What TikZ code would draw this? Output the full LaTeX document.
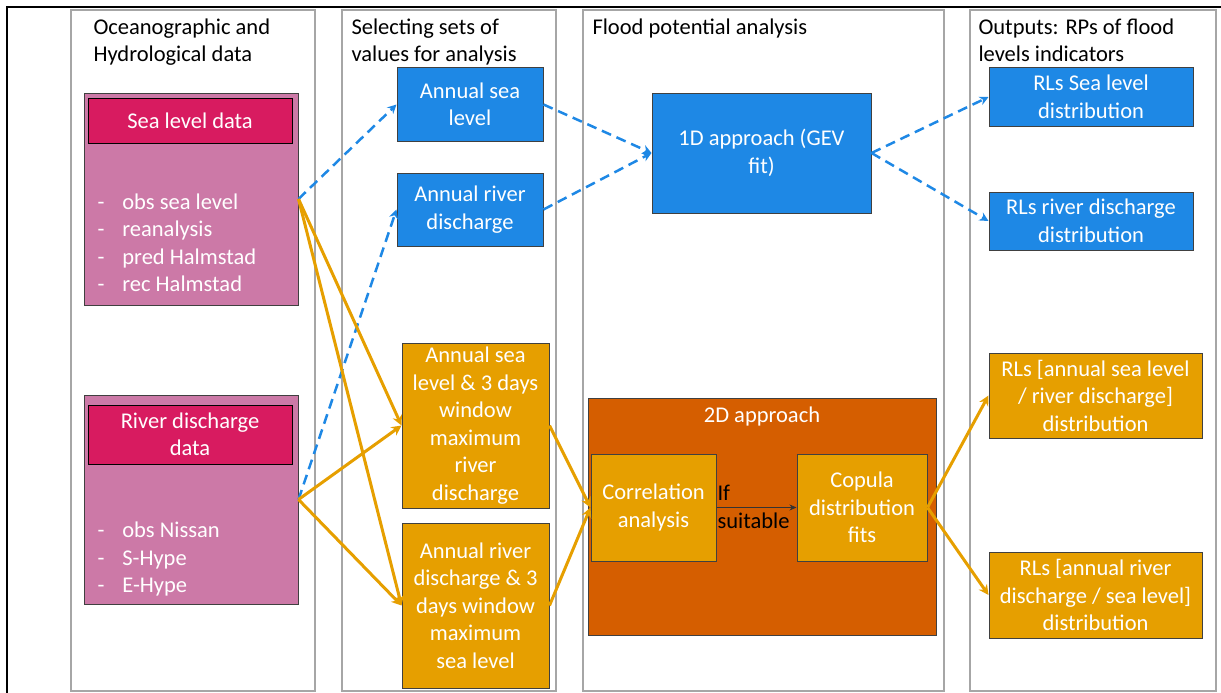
\documentclass[tikz,border=0pt]{standalone}
\usepackage{fontspec}
\setmainfont{Carlito}
\usepackage{tikz}
\usetikzlibrary{arrows.meta}

\definecolor{seablue}{HTML}{1E88E5}
\definecolor{amber}{HTML}{E69F00}
\definecolor{vermil}{HTML}{D55E00}
\definecolor{mauve}{HTML}{CC79A7}
\definecolor{crimson}{HTML}{D81B60}
\definecolor{framegray}{HTML}{A6A6A6}

\begin{document}
\begin{tikzpicture}[x=1pt, y=-1pt, line width=1pt,
    font=\fontsize{22.5}{27.5}\selectfont,
    col/.style={draw=framegray, line width=1.5pt},
    title/.style={anchor=north west, align=left, inner sep=0pt},
    box/.style={draw=black!75, text=white, align=center, inner sep=2pt},
    bluebox/.style={box, fill=seablue},
    amberbox/.style={box, fill=amber},
    pinkbox/.style={box, fill=mauve},
    headbox/.style={box, draw=black, fill=crimson},
    listtext/.style={anchor=west, align=left, text=white, inner sep=0pt},
    dashlink/.style={seablue, line width=2.5pt, dash pattern=on 10pt off 6pt, -{Stealth[length=9pt,width=9pt]}},
    orangelink/.style={amber, line width=3pt, -{Stealth[length=10pt,width=10pt]}}]

    \useasboundingbox (0,0) rectangle (1221,693);

    \draw[line width=2pt] (7,693) -- (7,7) -- (1221,7);

    \draw[col] (71,10) rectangle (315,691);
    \draw[col] (342,10) rectangle (556,691);
    \draw[col] (583,10) rectangle (944,691);
    \draw[col] (970,10) rectangle (1216,691);

    \node[title] (datatitle) at (93,18) {Oceanographic and\\Hydrological data};
    \node[title] (selecttitle) at (351,18) {Selecting sets of\\values for analysis};
    \node[title] (floodtitle) at (592,18) {Flood potential analysis};
    \node[title] (outtitle) at (978,18) {Outputs: RPs of flood\\levels indicators};

    \node[pinkbox, minimum width=214, minimum height=212] (sea) at (191,199) {};
    \node[headbox, minimum width=204, minimum height=45] (seahead) at (190,120.5) {Sea level data};
    \node[listtext] (sealist) at (97,243) {-\hspace{18pt}obs sea level\\-\hspace{18pt}reanalysis\\-\hspace{18pt}pred Halmstad\\-\hspace{18pt}rec Halmstad};

    \node[pinkbox, minimum width=214, minimum height=209] (river) at (191,499.5) {};
    \node[headbox, minimum width=204, minimum height=59] (riverhead) at (190,434.5) {River discharge\\data};
    \node[listtext] (riverlist) at (97,559) {-\hspace{18pt}obs Nissan\\-\hspace{18pt}S-Hype\\-\hspace{18pt}E-Hype};

    \node[bluebox, minimum width=146, minimum height=73] (asl) at (470,104.5) {Annual sea\\level};
    \node[bluebox, minimum width=146, minimum height=73] (ard) at (470,209.5) {Annual river\\discharge};
    \node[amberbox, minimum width=147, minimum height=165] (combsea) at (475.5,425.5) {Annual sea\\level \& 3 days\\window\\maximum\\river\\discharge};
    \node[amberbox, minimum width=147, minimum height=165] (combriver) at (475.5,605.5) {Annual river\\discharge \& 3\\days window\\maximum\\sea level};

    \node[bluebox, minimum width=219, minimum height=120] (gev) at (761.5,153) {1D approach (GEV\\fit)};
    \node[box, fill=vermil, minimum width=348, minimum height=237] (twod) at (762,516.5) {};
    \node[text=white, inner sep=0pt] (twodtitle) at (762,416) {2D approach};
    \node[amberbox, minimum width=125, minimum height=107] (corr) at (653.5,507.5) {Correlation\\analysis};
    \node[amberbox, minimum width=130, minimum height=107] (copula) at (862,507.5) {Copula\\distribution\\fits};
    \draw[draw=black!80, -{Stealth[length=7pt,width=6pt]}] (corr.east) -- (copula.west);
    \node[anchor=west, align=left, inner sep=0pt] (cond) at (717,507) {If\\suitable};

    \node[bluebox, minimum width=204, minimum height=58] (rlsea) at (1091,97) {RLs Sea level\\distribution};
    \node[bluebox, minimum width=204, minimum height=58] (rlriver) at (1091,221) {RLs river discharge\\distribution};
    \node[amberbox, minimum width=213, minimum height=85] (rlsr) at (1095.5,395.5) {RLs [annual sea level\\/ river discharge]\\distribution};
    \node[amberbox, minimum width=213, minimum height=86] (rlrs) at (1095.5,595) {RLs [annual river\\discharge / sea level]\\distribution};

    \draw[dashlink] (sea.east) -- (asl.west);
    \draw[dashlink] (river.east) -- (ard.west);
    \draw[dashlink] (asl.east) -- (gev.west);
    \draw[dashlink] (ard.east) -- (gev.west);
    \draw[dashlink] (gev.east) -- (rlsea.west);
    \draw[dashlink] (gev.east) -- (rlriver.west);

    \draw[orangelink] (sea.east) -- (combsea.west);
    \draw[orangelink] (sea.east) -- (combriver.west);
    \draw[orangelink] (river.east) -- (combsea.west);
    \draw[orangelink] (river.east) -- (combriver.west);
    \draw[orangelink] (combsea.east) -- (corr.west);
    \draw[orangelink] (combriver.east) -- (corr.west);
    \draw[orangelink] (copula.east) -- (rlsr.west);
    \draw[orangelink] (copula.east) -- (rlrs.west);
\end{tikzpicture}
\end{document}
